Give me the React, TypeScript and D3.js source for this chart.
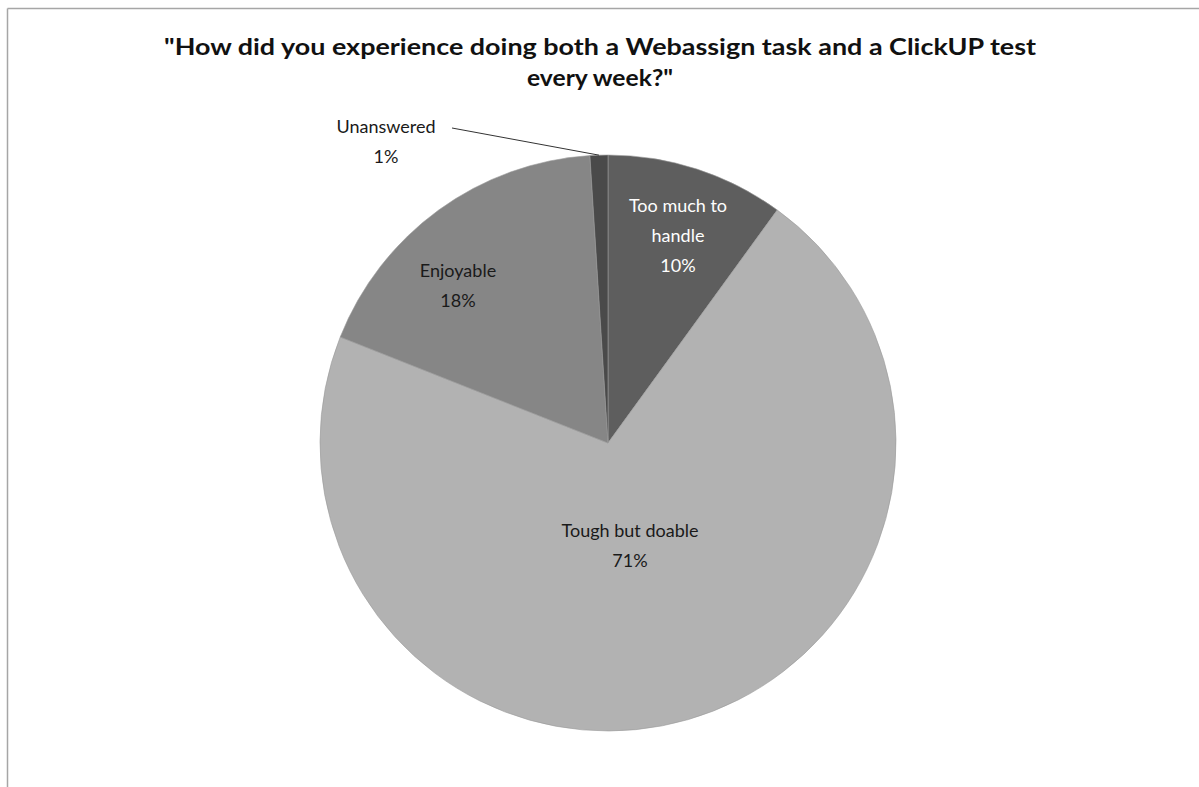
import React from "react";
import * as d3 from "d3";

const categories = ["Too much to handle", "Tough but doable", "Enjoyable", "Unanswered"];
const values = [10, 71, 18, 1];
const sliceColors = ["#5e5e5e", "#b2b2b2", "#868686", "#4a4a4a"];
const labelLines = [["Too much to", "handle"], ["Tough but doable"], ["Enjoyable"], ["Unanswered"]];
const labelColors = ["#ffffff", "#1a1a1a", "#1a1a1a", "#1a1a1a"];
const titleLines = ["\"How did you experience doing both a Webassign task and a ClickUP test", "every week?\""];

const W = 1199, H = 787;
const cx = 608, cy = 443, R = 288;
const FONT = "Lato, 'Open Sans', sans-serif";

export default function App() {
  const pie = d3.pie<number>().sort(null).value((d) => d)(values);
  const arc = d3.arc<d3.PieArcDatum<number>>().innerRadius(0).outerRadius(R);
  const total = d3.sum(values);
  const pct = (v: number) => d3.format(".0%")(v / total);

  // label anchor positions (fraction of radius) per slice
  const labelRadius = [0.6, 0.45, 0.55, 0];
  const labelPos = pie.map((p, i) => {
    const a = (p.startAngle + p.endAngle) / 2;
    const r = R * labelRadius[i];
    return [cx + r * Math.sin(a), cy - r * Math.cos(a)];
  });
  // Unanswered outside label
  const un = pie[3];
  const unA = (un.startAngle + un.endAngle) / 2;
  const unEdge = [cx + R * Math.sin(unA), cy - R * Math.cos(unA)];
  const unLabel = [386, 127];

  return (
    <svg width={W} height={H} style={{ position: "absolute", left: 0, top: 0, background: "#fff" }}>
      <rect x={0} y={0} width={W} height={H} fill="#fff" />
      <line x1={7.5} y1={8.5} x2={W} y2={8.5} stroke="#a6a6a6" strokeWidth={1.5} />
      <line x1={7.5} y1={8.5} x2={7.5} y2={H} stroke="#a6a6a6" strokeWidth={1.5} />
      {titleLines.map((t, i) => (
        <text key={i} x={600} y={55 + i * 31} textAnchor="middle" fontFamily={FONT} fontWeight="bold" fontSize={22} fill="#111"
          textLength={i === 0 ? 872 : 146} lengthAdjust="spacingAndGlyphs">{t}</text>
      ))}
      <g transform={`translate(${cx},${cy})`}>
        {pie.map((p, i) => (
          <path key={i} d={arc(p) || ""} fill={sliceColors[i]} stroke="#9a9a9a" strokeWidth={0.6} />
        ))}
      </g>
      {pie.slice(0, 3).map((p, i) => {
        const lines = [...labelLines[i], pct(values[i])];
        const [lx, ly] = i === 0 ? [678, 212] : i === 1 ? [630, 537] : [458, 277];
        return (
          <text key={i} x={lx} y={ly} textAnchor="middle" fontFamily={FONT} fontSize={18} fill={labelColors[i]}>
            {lines.map((l, j) => (
              <tspan key={j} x={lx} dy={j === 0 ? 0 : 30}>{l}</tspan>
            ))}
          </text>
        );
      })}
      <polyline points={`${452},${128} ${unEdge[0]},${unEdge[1]}`} fill="none" stroke="#333" strokeWidth={1} />
      <text x={unLabel[0]} y={unLabel[1] + 6} textAnchor="middle" fontFamily={FONT} fontSize={18} fill="#1a1a1a">
        <tspan x={unLabel[0]} dy={0}>{labelLines[3][0]}</tspan>
        <tspan x={unLabel[0]} dy={30}>{pct(values[3])}</tspan>
      </text>
    </svg>
  );
}
